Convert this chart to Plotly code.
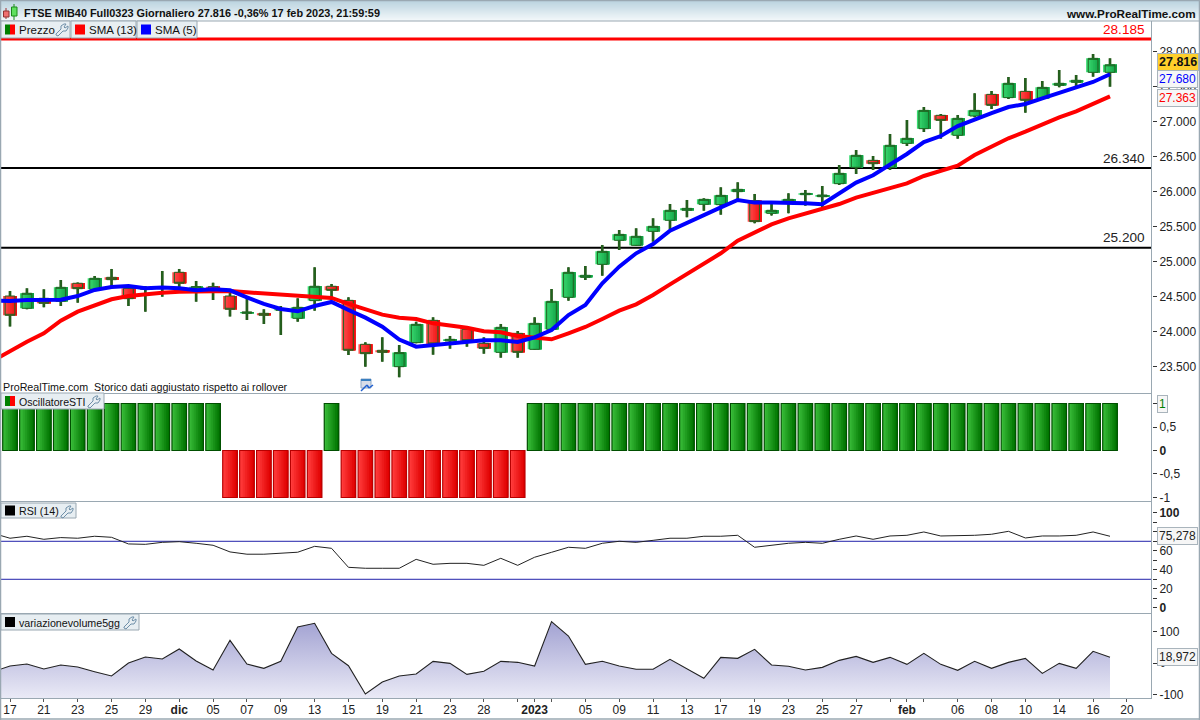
import plotly.graph_objects as go

W, H = 1200, 720
FONT = "Liberation Sans"

# ---------- data ----------
candle_open = [24508,24332,24475,24432,24690,24604,24775,24618,24604,24618,24847,24623,24642,24508,24260,24260,24303,24189,24442,24647,24446,23817,23731,23497,23841,24160,23864,24031,23831,23702,23974,23745,24031,24489,24775,24961,25305,25233,25433,25591,25734,25820,25815,26001,25872,25691,25858,25958,25929,26115,26349,26449,26344,26692,26902,27093,26807,27083,27393,27346,27436,27336,27522,27565,27708,27708]
candle_high = [24580,24618,24604,24737,24700,24794,24895,24650,24650,24866,24895,24723,24699,24570,24475,24318,24365,24475,24918,24680,24489,23845,23917,23807,24141,24203,23936,24069,23917,24108,24007,24203,24608,24918,24937,25238,25452,25476,25619,25824,25882,25906,26063,26134,25968,25830,25977,26025,26082,26382,26597,26511,26826,27026,27212,27112,27098,27408,27441,27641,27627,27584,27741,27670,27970,27908]
candle_low = [24070,24318,24346,24365,24413,24590,24642,24365,24284,24499,24594,24427,24451,24213,24165,24108,23950,24141,24298,24451,23664,23497,23569,23345,23831,23669,23755,23783,23683,23626,23626,23740,24025,24441,24737,24799,25166,25228,25286,25462,25634,25729,25672,25858,25548,25658,25691,25801,25772,26096,26254,26311,26311,26654,26855,26759,26759,27064,27184,27327,27131,27327,27493,27493,27646,27503]
candle_close = [24232,24547,24403,24632,24613,24761,24742,24470,24628,24642,24690,24642,24604,24318,24280,24232,24318,24346,24647,24589,23731,23683,23702,23698,24103,23822,23888,23869,23759,24060,23702,24117,24432,24847,24804,25147,25390,25362,25505,25734,25762,25891,25948,26034,25572,25734,25891,25977,25953,26263,26521,26401,26664,26764,27164,27021,27050,27164,27236,27551,27308,27493,27551,27594,27908,27816]

# the line series also carry the session just before the first visible bar
sma5 = [24442,24437,24451,24451,24456,24508,24594,24637,24651,24618,24628,24618,24589,24604,24589,24489,24394,24322,24289,24365,24423,24308,24198,24070,23885,23783,23807,23831,23859,23874,23874,23850,23917,24022,24236,24379,24689,24928,25119,25252,25443,25557,25662,25777,25882,25844,25844,25844,25834,25820,25977,26130,26235,26382,26540,26711,26797,26940,27040,27126,27212,27255,27336,27408,27493,27570,27680]
sma13 = [23583,23726,23855,23974,24155,24284,24380,24461,24508,24537,24556,24570,24570,24580,24580,24561,24547,24527,24508,24494,24480,24394,24318,24241,24198,24179,24117,24084,24055,24003,23988,23936,23907,23888,23974,24065,24179,24298,24389,24523,24675,24823,24976,25119,25300,25414,25533,25619,25691,25753,25824,25915,25982,26053,26120,26225,26301,26373,26525,26645,26764,26859,26969,27064,27150,27255,27363]

sti = [1,1,1,1,1,1,1,1,1,1,1,1,1,-1,-1,-1,-1,-1,-1,1,-1,-1,-1,-1,-1,-1,-1,-1,-1,-1,-1]+[1]*35

rsi = [78.4,73.2,75.3,72.1,73.9,73.2,75.3,74.2,67.2,66.8,68.9,69.6,67.9,65.8,58.8,56.4,56.4,57.4,58.5,64.7,62.6,42.6,41.6,41.6,41.6,51.0,45.8,46.8,46.8,44.7,52.1,44.7,53.2,58.4,63.7,62.6,67.9,70.0,68.9,71.0,73.2,73.2,75.3,75.3,76.3,63.7,65.8,67.9,68.9,67.9,72.1,75.6,72.1,75.6,76.3,79.8,75.6,75.6,76.3,77.4,80.5,73.5,75.6,75.6,76.3,79.8,75.278]

volume_change = [-27.1,-9,-2.6,-18.6,-5.8,-12.2,-27.1,-41,0.6,19.9,13.4,45.5,7,-21.8,73.2,-2.6,-16.4,6,115.9,127.7,31.6,-8,-98.6,-60.2,-41,-34.6,6,-0.4,-35.7,-26,6,2.8,-9,133,87,-3.6,6,-9,-19.6,-19.6,12.4,-18.6,-48.5,18.8,15.6,44.4,-5.8,-10,-21.8,-13.3,9.1,21.9,2.7,18.7,-3.7,31.5,-3.7,-22.9,6,-16.5,2.7,15.5,-32.5,-0.5,-16.5,38,18.972]

level_red = 28185
levels_black = [26340, 25200]
rsi_levels = [70, 30]

date_ticks = [0,2,4,6,8,10,12,14,16,18,20,22,24,26,28,30,31,32,34,36,38,40,42,44,46,48,50,52,53,54,56,58,60,62,64,66]
date_labels = ["17","21","23","25","29","<b>dic</b>","05","07","09","13","15","19","21","23","28","","<b>2023</b>","","05","09","11","13","17","19","23","25","27","","<b>feb</b>","","06","08","10","14","16","20"]

price_ticks = [28000,27500,27000,26500,26000,25500,25000,24500,24000,23500]
price_labels = ["28.000","27.500","27.000","26.500","26.000","25.500","25.000","24.500","24.000","23.500"]
sti_ticks = [1,0.5,0,-0.5,-1]
sti_labels = ["","0,5","<b>0</b>","-0,5","-1"]
rsi_ticks = [100,90,80,70,60,50,40,30,20,10,0]
rsi_labels = ["<b>100</b>","","80","","60","","40","","20","","<b>0</b>"]
vol_ticks = [100,0,-100]
vol_labels = ["100","0","-100"]

# ---------- geometry helpers (page furniture only) ----------
def px(x): return x / W
def py(y): return 1 - y / H

STEP = 1100 / 65
X0 = 10
x_range = [(1 - X0) / STEP, (1152 - X0) / STEP]

def hex2rgb(c): return tuple(int(c[i:i+2], 16) for i in (1, 3, 5))
def lerp(a, b, t):
    ra, rb = hex2rgb(a), hex2rgb(b)
    return "rgb(%d,%d,%d)" % tuple(round(p + (q - p) * t) for p, q in zip(ra, rb))

def strips(total, n):
    """(centre offset, width) of n overlapping strips painted left to right."""
    out = []
    for k in range(n):
        left = -total / 2 + total * k / n
        right = total / 2
        out.append(((left + right) / 2, right - left))
    return out

idx = list(range(len(candle_close)))
line_x = list(range(-1, len(candle_close)))
fig = go.Figure()

# ---- candles: wicks, gradient bodies, outlines
WICK = "#29591a"
fig.add_trace(go.Bar(x=idx, base=candle_low, y=[h - l for h, l in zip(candle_high, candle_low)],
                     width=0.16, marker=dict(color=WICK, line=dict(width=0)), hoverinfo="skip", yaxis="y"))
N = 8
BODY = 0.82
for k, (off, wd) in enumerate(strips(BODY, N)):
    t = k / (N - 1)
    cols = [lerp("#3adc72", "#12a044", t) if c >= o else lerp("#ff5050", "#ee0e0e", t)
            for o, c in zip(candle_open, candle_close)]
    fig.add_trace(go.Bar(x=[i + off for i in idx],
                         base=[min(o, c) for o, c in zip(candle_open, candle_close)],
                         y=[abs(o - c) for o, c in zip(candle_open, candle_close)],
                         width=wd, marker=dict(color=cols, line=dict(width=0)),
                         hoverinfo="skip", yaxis="y"))
fig.add_trace(go.Candlestick(x=idx, open=candle_open, high=candle_high, low=candle_low, close=candle_close,
                             increasing=dict(line=dict(color="#1f6420", width=1), fillcolor="rgba(0,0,0,0)"),
                             decreasing=dict(line=dict(color="#1f6420", width=1), fillcolor="rgba(0,0,0,0)"),
                             whiskerwidth=0, yaxis="y", hoverinfo="skip"))

# ---- SMA lines
fig.add_trace(go.Scatter(x=line_x, y=sma13, mode="lines", line=dict(color="#ff0000", width=4), hoverinfo="skip", yaxis="y"))
fig.add_trace(go.Scatter(x=line_x, y=sma5, mode="lines", line=dict(color="#0000ff", width=4), hoverinfo="skip", yaxis="y"))

# ---- STI histogram
STI_W = 0.86
for k, (off, wd) in enumerate(strips(STI_W, N)):
    t = k / (N - 1)
    cols = [lerp("#38bb38", "#007400", t) if v > 0 else lerp("#ff3c3c", "#e00000", t) for v in sti]
    fig.add_trace(go.Bar(x=[i + off for i in idx], y=sti, width=wd,
                         marker=dict(color=cols, line=dict(width=0)), hoverinfo="skip", yaxis="y2"))
fig.add_trace(go.Bar(x=idx, y=sti, width=STI_W,
                     marker=dict(color="rgba(0,0,0,0)",
                                 line=dict(width=1.2, color=["#004f00" if v > 0 else "#b80000" for v in sti])),
                     hoverinfo="skip", yaxis="y2"))

# ---- RSI
for lv in rsi_levels:
    fig.add_trace(go.Scatter(x=x_range, y=[lv, lv], mode="lines", line=dict(color="#2222aa", width=1),
                             hoverinfo="skip", yaxis="y3"))
fig.add_trace(go.Scatter(x=line_x, y=rsi, mode="lines", line=dict(color="#222222", width=1), hoverinfo="skip", yaxis="y3"))

# ---- volume change area
VOL_MIN, VOL_MAX = -112.4, 159.8
fig.add_trace(go.Scatter(x=line_x, y=[VOL_MIN] * len(line_x), mode="lines", line=dict(width=0),
                         hoverinfo="skip", yaxis="y4"))
fig.add_trace(go.Scatter(x=line_x, y=volume_change, mode="lines", line=dict(color="#222222", width=1.1),
                         fill="tonexty",
                         fillgradient=dict(type="vertical", colorscale=[[0, "#eaeaf6"], [1, "#a2a2d2"]]),
                         hoverinfo="skip", yaxis="y4"))

# ---------- furniture ----------
GREY = "#9aa8b2"
shapes = []
def rect(x0, y0, x1, y1, fill, line=None, lw=1, layer="above"):
    shapes.append(dict(type="rect", xref="paper", yref="paper", x0=px(x0), x1=px(x1), y0=py(y0), y1=py(y1),
                       fillcolor=fill, line=dict(color=line or "rgba(0,0,0,0)", width=lw if line else 0), layer=layer))
def seg(x0, y0, x1, y1, col, lw=1, layer="above"):
    shapes.append(dict(type="line", xref="paper", yref="paper", x0=px(x0), x1=px(x1), y0=py(y0), y1=py(y1),
                       line=dict(color=col, width=lw), layer=layer))
def wrench(x, y):
    pts = [(0, 12), (2, 13), (7, 8), (10, 8), (12, 5), (12, 3), (9, 5), (8, 4), (10, 1), (8, 1), (5, 3), (5, 6), (0, 11)]
    d = "M " + " L ".join("%.5f,%.5f" % (px(x + a), py(y + b)) for a, b in pts) + " Z"
    shapes.append(dict(type="path", xref="paper", yref="paper", path=d, fillcolor="rgba(0,0,0,0)",
                       line=dict(color="#6f8fa8", width=1), layer="above"))

# header gradient
for j in range(20):
    rect(0, j + 1, W, j + 2, lerp("#bcd4e0", "#f3f8fa", j / 19), layer="below")
# frame
seg(0.5, 0, 0.5, H, GREY, 1.5); seg(W - 0.5, 0, W - 0.5, H, GREY, 1.5)
seg(0, 0.5, W, 0.5, GREY, 1.5); seg(0, H - 1, W, H - 1, GREY, 1.5)
seg(0, 21, W, 21, GREY, 1)
for yy in (393.5, 501.5, 613.5, 698.5):
    seg(0, yy, 1152, yy, GREY, 1)
seg(1151.5, 21, 1151.5, 698.5, GREY, 1)
# small candle logo
seg(6, 8, 6, 19, "#a03030", 1); rect(3.5, 11, 9, 17, "#f07070", "#903030")
seg(14, 4, 14, 20, "#1a8a1a", 1); rect(11.5, 7, 17, 16, "#60e060", "#1a8a1a")

annots = []
def label(x, y, text, size=12, color="#111111", anchor="left", **kw):
    annots.append(dict(x=px(x), y=py(y), xref="paper", yref="paper", text=text, showarrow=False,
                       xanchor=anchor, yanchor="middle", font=dict(family=FONT, size=size, color=color),
                       borderpad=0, **kw))

def tab(x0, x1, y0, y1, text, swatches, wr=None, size=11):
    rect(x0, y0, x1, y1, "#e7eef2", GREY)
    top = y0 + (y1 - y0 - 10) / 2
    if len(swatches) == 2:
        rect(x0 + 4, top, x0 + 9, top + 10, swatches[0]); rect(x0 + 9, top, x0 + 14, top + 10, swatches[1])
    else:
        rect(x0 + 4, top, x0 + 14, top + 10, swatches[0])
    label(x0 + 17, (y0 + y1) / 2 + 0.5, text, size)
    if wr is not None:
        wrench(wr, y0 + 2)

tab(1, 70, 21, 38, "Prezzo", ["#008000", "#ff0000"], 56, 11.5)
tab(71, 136, 21, 38, "SMA (13)", ["#ff0000"], None, 11.5)
tab(137, 197, 21, 38, "SMA (5)", ["#0000ff"], None, 11.5)
tab(1, 104, 393, 409, "OscillatoreSTI", ["#008000", "#ff0000"], 88, 10.6)
tab(1, 76, 503, 518, "RSI (14)", ["#000000"], 61, 10.7)
tab(1, 139, 614, 630, "variazionevolume5gg", ["#000000"], 124, 10.7)

# calendar marker
rect(361, 379, 371, 388, "#d8dde8", "#8fa8c8")
rect(361, 379, 371, 381, "#3a7fc0")
seg(361, 391, 367, 385, "#2060d0", 1.5); seg(367, 385, 369, 388, "#2060d0", 1.5); seg(369, 388, 373, 385, "#2060d0", 1.5)

# level lines
shapes.append(dict(type="line", xref="x domain", yref="y", x0=0, x1=1, y0=level_red, y1=level_red,
                   line=dict(color="#ff0000", width=3), layer="below"))
for lv in levels_black:
    shapes.append(dict(type="line", xref="x domain", yref="y", x0=0, x1=1, y0=lv, y1=lv,
                       line=dict(color="#000000", width=2), layer="below"))

label(2, 387, "ProRealTime.com&nbsp;&nbsp;Storico dati aggiustato rispetto ai rollover", 10.7)
label(23, 13, "<b>FTSE MIB40 Full0323 Giornaliero 27.816 -0,36% 17 feb 2023, 21:59:59</b>", 10.9)
label(1197, 13, "<b>www.ProRealTime.com</b>", 11.7, anchor="right")
label(1146, 30, "28.185", 13.6, "#ff0000", anchor="right")
label(1146, 158, "26.340", 13.6, "#222222", anchor="right")
label(1146, 238, "25.200", 13.6, "#222222", anchor="right")

def box(yref, val, text, color, bg="#f6f6f6", size=12, bold=False, shift=0):
    annots.append(dict(x=px(1157), y=val, xref="paper", yref=yref, xanchor="left", yanchor="middle",
                       text="<b>%s</b>" % text if bold else text, showarrow=False, yshift=shift,
                       font=dict(family=FONT, size=size, color=color),
                       bgcolor=bg, bordercolor="#a9b4bc", borderwidth=1, borderpad=1))
box("y", sma5[-1], "27.680", "#0000ff", shift=-5)
box("y", sma13[-1], "27.363", "#ff0000", shift=-1.5)
box("y", candle_close[-1], "27.816", "#111111", "#ffcf2a", 12.5, True, shift=3)
box("y2", sti[-1], "1", "#008000")
box("y3", rsi[-1], "75,278", "#222222")
box("y4", volume_change[-1], "18,972", "#222222")

def yax(top, bot, rng, vals, text):
    return dict(domain=[py(bot), py(top)], range=rng, anchor="x", side="right", showgrid=False, zeroline=False,
                showline=False, automargin=False, tickmode="array", tickvals=vals, ticktext=text, ticks="outside",
                ticklen=4, tickwidth=1, tickcolor="#333333", tickfont=dict(family=FONT, size=12, color="#222222"),
                fixedrange=True)

fig.update_layout(
    width=W, height=H, autosize=False, margin=dict(l=0, r=0, t=0, b=0),
    paper_bgcolor="#ffffff", plot_bgcolor="#ffffff", showlegend=False, barmode="overlay", boxgap=0.18,
    xaxis=dict(domain=[px(1), px(1152)], range=x_range, anchor="y4", showgrid=False, zeroline=False,
               showline=False, automargin=False, rangeslider=dict(visible=False), tickmode="array",
               tickvals=date_ticks, ticktext=date_labels, tickangle=0, ticks="outside", ticklen=3, tickwidth=1,
               ticklabelstandoff=-3,
               tickcolor="#555555", tickfont=dict(family=FONT, size=12, color="#222222"), fixedrange=True),
    yaxis=yax(21, 393.3, [23116, 28442.5], price_ticks, price_labels),
    yaxis2=yax(393.3, 501.3, [-1.081, 1.217], sti_ticks, sti_labels),
    yaxis3=yax(501.3, 613.3, [-5.8, 112.1], rsi_ticks, rsi_labels),
    yaxis4=yax(613.3, 698.3, [VOL_MIN, VOL_MAX], vol_ticks, vol_labels),
    shapes=shapes, annotations=annots,
)

fig.write_html("out.html", config=dict(displayModeBar=False, staticPlot=True),
               post_script="document.documentElement.style.overflow='hidden';document.body.style.margin='0';document.body.style.overflow='hidden';")
